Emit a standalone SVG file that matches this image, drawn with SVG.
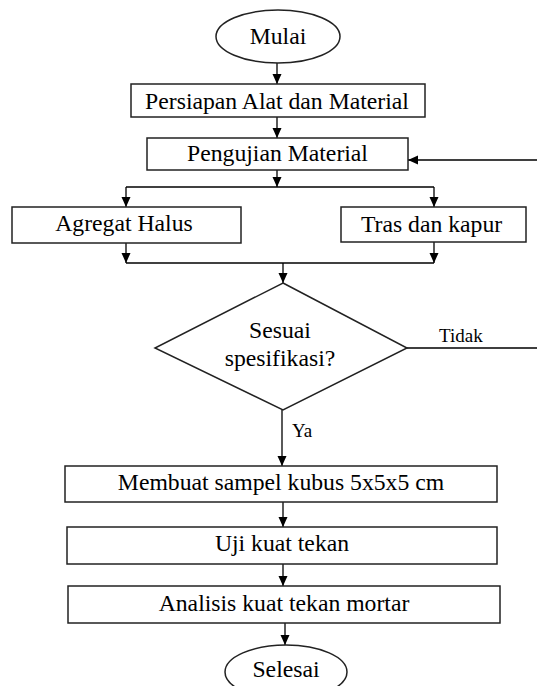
<svg xmlns="http://www.w3.org/2000/svg" width="537" height="686" viewBox="0 0 537 686">
<style>
.box{fill:#fff;stroke:#222;stroke-width:1.5}
.t{font-family:'Liberation Serif','Times New Roman','DejaVu Serif',serif;font-size:23.7px;fill:#000;text-anchor:middle}
.s{font-family:'Liberation Serif','Times New Roman','DejaVu Serif',serif;font-size:19px;fill:#000}
.c{fill:none;stroke:#000;stroke-width:1.3}
</style>
<defs>
<marker id="ah" markerUnits="userSpaceOnUse" markerWidth="11" markerHeight="10" refX="10" refY="4.5" orient="auto">
<path d="M0,0 L10,4.5 L0,9 z" fill="#000"/>
</marker>
</defs>
<g id="connectors">
<path class="c" d="M277 63 V84" marker-end="url(#ah)"/>
<path class="c" d="M277 117 V138" marker-end="url(#ah)"/>
<path class="c" d="M277 170 V187" marker-end="url(#ah)"/>
<path class="c" d="M126 187 H434"/>
<path class="c" d="M126 187 V207" marker-end="url(#ah)"/>
<path class="c" d="M434 187 V207" marker-end="url(#ah)"/>
<path class="c" d="M126 243 V263" marker-end="url(#ah)"/>
<path class="c" d="M434 242 V263" marker-end="url(#ah)"/>
<path class="c" d="M126 263 H434"/>
<path class="c" d="M283 263 V283" marker-end="url(#ah)"/>
<path class="c" d="M407 348 H545 V160 H408" marker-end="url(#ah)"/>
<path class="c" d="M282 410 V466" marker-end="url(#ah)"/>
<path class="c" d="M283 502 V527" marker-end="url(#ah)"/>
<path class="c" d="M283 564 V586" marker-end="url(#ah)"/>
<path class="c" d="M285 623 V645" marker-end="url(#ah)"/>
<text class="s" x="439" y="342">Tidak</text>
<text class="s" x="292" y="437">Ya</text>
</g>
<g id="mulai">
<ellipse class="box" cx="278" cy="36.5" rx="62" ry="26.5"/>
<text class="t" x="278" y="44">Mulai</text>
</g>
<g id="persiapan">
<rect class="box" x="131" y="84" width="294" height="33"/>
<text class="t" x="277" y="109">Persiapan Alat dan Material</text>
</g>
<g id="pengujian">
<rect class="box" x="147" y="138" width="261" height="32"/>
<text class="t" x="277.5" y="161">Pengujian Material</text>
</g>
<g id="agregat">
<rect class="box" x="12" y="207" width="229" height="36"/>
<text class="t" x="124" y="231">Agregat Halus</text>
</g>
<g id="tras">
<rect class="box" x="341" y="207" width="185" height="35"/>
<text class="t" x="431.5" y="232">Tras dan kapur</text>
</g>
<g id="sesuai">
<polygon class="box" points="283,283 407,348 283,410 155,348"/>
<text class="t" x="280" y="338">Sesuai</text>
<text class="t" x="280" y="366">spesifikasi?</text>
</g>
<g id="membuat">
<rect class="box" x="65" y="466" width="432" height="36"/>
<text class="t" x="281" y="490">Membuat sampel kubus 5x5x5 cm</text>
</g>
<g id="uji">
<rect class="box" x="67" y="527" width="430" height="37"/>
<text class="t" x="282" y="551">Uji kuat tekan</text>
</g>
<g id="analisis">
<rect class="box" x="68" y="586" width="432" height="37"/>
<text class="t" x="284" y="611">Analisis kuat tekan mortar</text>
</g>
<g id="selesai">
<ellipse class="box" cx="286" cy="672" rx="61" ry="27"/>
<text class="t" x="286" y="677">Selesai</text>
</g>
</svg>
